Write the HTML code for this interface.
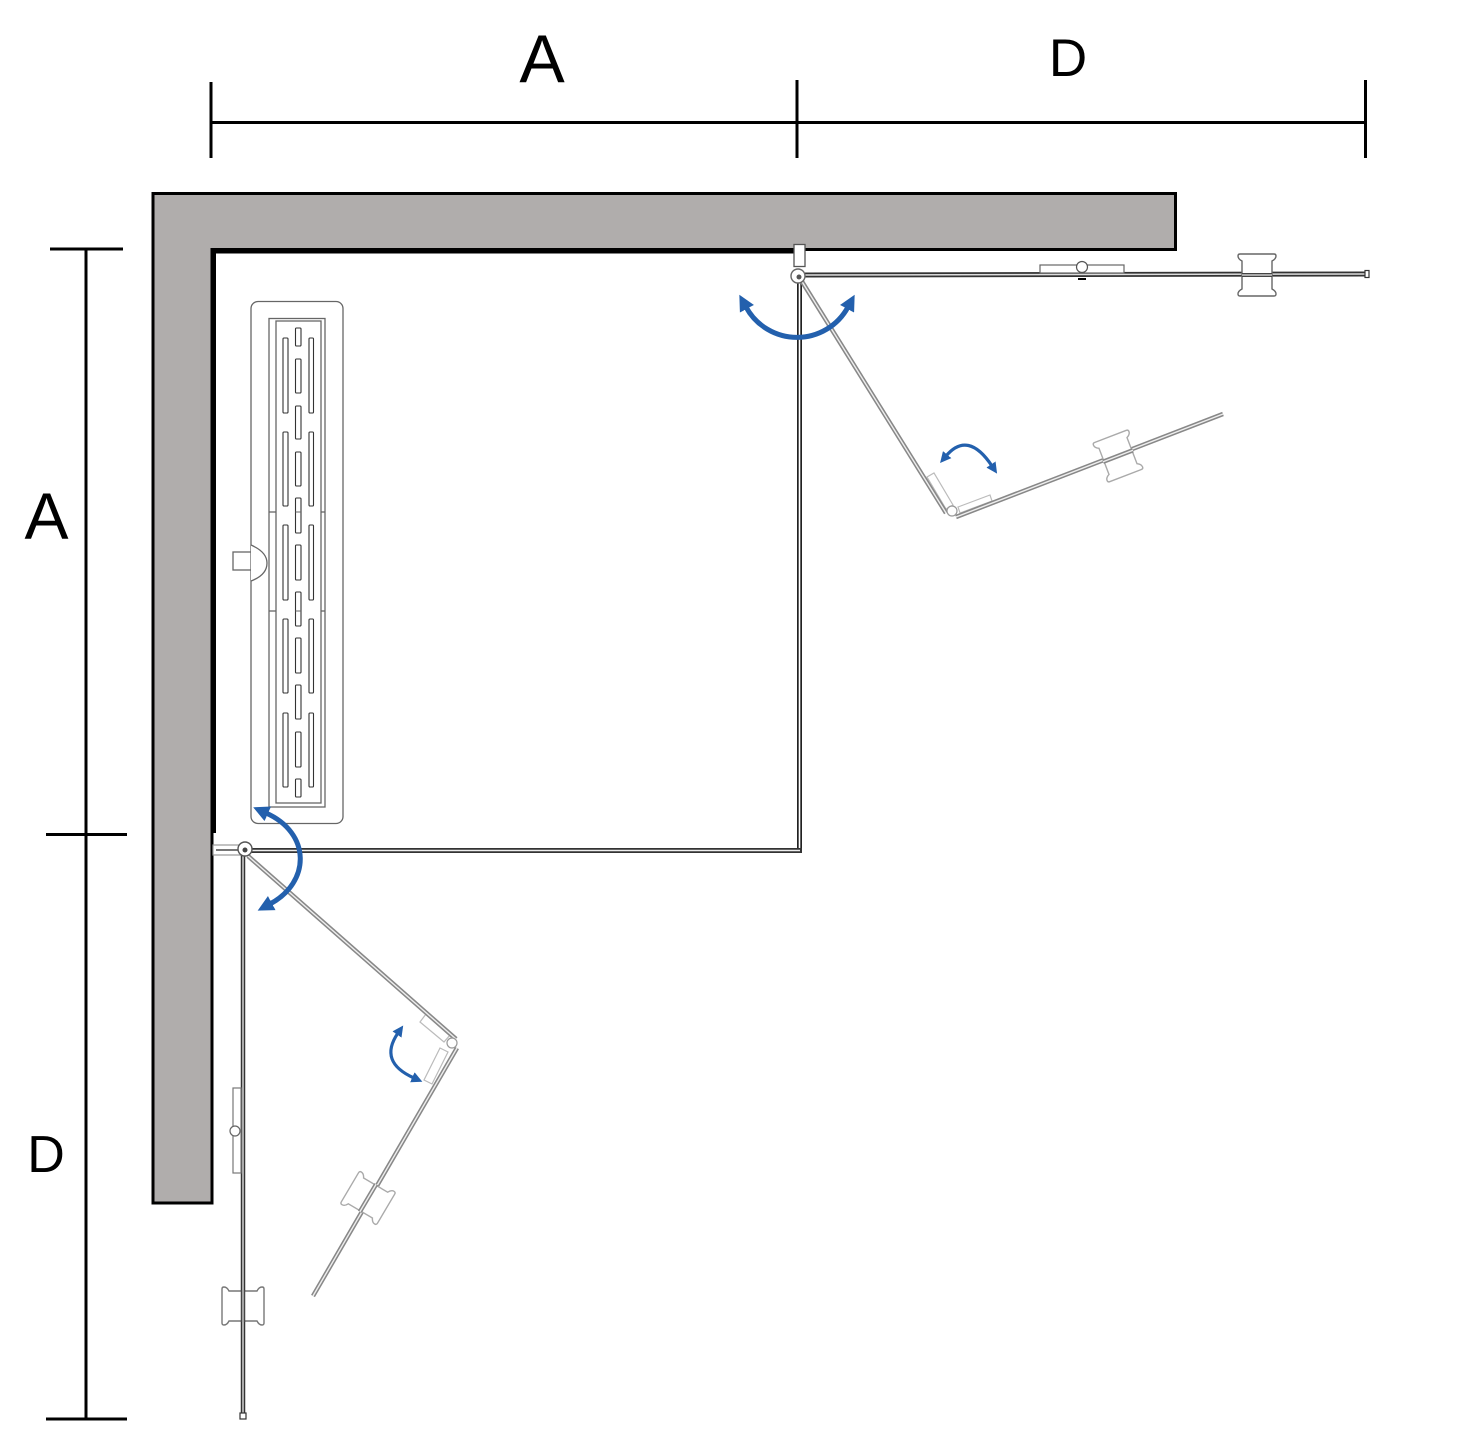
<!DOCTYPE html>
<html><head><meta charset="utf-8"><style>
html,body{margin:0;padding:0;background:#fff;}
svg{display:block;}
text{font-family:"Liberation Sans",Arial,sans-serif;fill:#000;}
</style></head><body>
<svg width="1479" height="1431" viewBox="0 0 1479 1431" xmlns="http://www.w3.org/2000/svg">
<defs>
<marker id="ab" viewBox="0 0 16 16" refX="2" refY="8" markerWidth="16" markerHeight="16" markerUnits="userSpaceOnUse" orient="auto-start-reverse"><path d="M0,0 L16,8 L0,16 z" fill="#2360ad"/></marker>
<marker id="as" viewBox="0 0 12 12" refX="2" refY="6" markerWidth="11" markerHeight="11" markerUnits="userSpaceOnUse" orient="auto-start-reverse"><path d="M0,0 L12,6 L0,12 z" fill="#2360ad"/></marker>
<path id="spool" d="M-17,-21 L17,-21 Q19,-21 19,-19 Q19,-16 15,-14 L15,14 Q19,16 19,19 Q19,21 17,21 L-17,21 Q-19,21 -19,19 Q-19,16 -15,14 L-15,-14 Q-19,-16 -19,-19 Q-19,-21 -17,-21 Z" fill="#fff" stroke-width="1.4"/>
</defs>

<!-- dimension lines -->
<g stroke="#000" stroke-width="3" fill="none">
<line x1="211" y1="122.5" x2="1366" y2="122.5"/>
<line x1="211" y1="82" x2="211" y2="158"/>
<line x1="797" y1="80" x2="797" y2="158"/>
<line x1="1365.5" y1="80" x2="1365.5" y2="158"/>
<line x1="86" y1="249" x2="86" y2="1419"/>
<line x1="50" y1="249" x2="123" y2="249"/>
<line x1="46" y1="834.5" x2="127" y2="834.5"/>
<line x1="46" y1="1419" x2="127" y2="1419"/>
</g>
<text x="542" y="82" font-size="68" text-anchor="middle">A</text>
<text x="1068" y="76" font-size="53" text-anchor="middle">D</text>
<text x="46.5" y="539" font-size="66" text-anchor="middle">A</text>
<text x="46" y="1172" font-size="52" text-anchor="middle">D</text>

<!-- wall -->
<path d="M153,193.5 L1175.5,193.5 L1175.5,249.5 L212,249.5 L212,1203 L153,1203 Z" fill="#b0adac" stroke="#000" stroke-width="3"/>
<line x1="212" y1="252" x2="795" y2="252" stroke="#000" stroke-width="3"/>
<line x1="214.5" y1="250" x2="214.5" y2="833" stroke="#000" stroke-width="3"/>

<!-- drain -->
<g fill="none" stroke="#666" stroke-width="1.3">
<rect x="251" y="301.5" width="92" height="522" rx="7"/>
<rect x="269" y="318.5" width="56" height="488.5"/>
<rect x="276" y="321" width="45" height="482"/>
<line x1="269" y1="512" x2="276" y2="512"/><line x1="321" y1="512" x2="325" y2="512"/>
<line x1="269" y1="611" x2="276" y2="611"/><line x1="321" y1="611" x2="325" y2="611"/>
<rect x="233" y="552" width="18" height="18" fill="#fff"/>
<path d="M251,545 Q267,552 267,563 Q267,575 251,581" fill="#fff"/>
</g>
<g fill="#fff" stroke="#333" stroke-width="1.1">
<rect x="283" y="338" width="5" height="75" rx="1"/><rect x="283" y="432" width="5" height="74" rx="1"/><rect x="283" y="525" width="5" height="75" rx="1"/><rect x="283" y="619" width="5" height="74" rx="1"/><rect x="283" y="713" width="5" height="74" rx="1"/>
<rect x="309" y="338" width="4.5" height="75" rx="1"/><rect x="309" y="432" width="4.5" height="74" rx="1"/><rect x="309" y="525" width="4.5" height="75" rx="1"/><rect x="309" y="619" width="4.5" height="74" rx="1"/><rect x="309" y="713" width="4.5" height="74" rx="1"/>
<rect x="295.5" y="328" width="5.5" height="18" rx="1"/><rect x="295.5" y="359" width="5.5" height="34" rx="1"/><rect x="295.5" y="406" width="5.5" height="33" rx="1"/><rect x="295.5" y="452" width="5.5" height="34" rx="1"/><rect x="295.5" y="498" width="5.5" height="35" rx="1"/><rect x="295.5" y="545" width="5.5" height="35" rx="1"/><rect x="295.5" y="592" width="5.5" height="34" rx="1"/><rect x="295.5" y="638" width="5.5" height="35" rx="1"/><rect x="295.5" y="685" width="5.5" height="34" rx="1"/><rect x="295.5" y="732" width="5.5" height="35" rx="1"/><rect x="295.5" y="779" width="5.5" height="18" rx="1"/>
</g>
<line x1="295.5" y1="512" x2="301" y2="512" stroke="#666" stroke-width="1"/>
<line x1="295.5" y1="611" x2="301" y2="611" stroke="#666" stroke-width="1"/>

<!-- fixed panels -->
<g fill="none">
<line x1="799.5" y1="282" x2="799.5" y2="853" stroke="#222" stroke-width="5"/>
<line x1="799.5" y1="282" x2="799.5" y2="851" stroke="#fff" stroke-width="1.6"/>
<line x1="250" y1="850.5" x2="802" y2="850.5" stroke="#333" stroke-width="5"/>
<line x1="250" y1="850.5" x2="800" y2="850.5" stroke="#eee" stroke-width="1.6"/>
</g>

<!-- top hinge & door -->
<rect x="794" y="244.5" width="11" height="22" fill="#fff" stroke="#555" stroke-width="1.3"/>
<line x1="805" y1="275" x2="1368" y2="274" stroke="#333" stroke-width="5"/>
<line x1="805" y1="275" x2="1366" y2="274" stroke="#ddd" stroke-width="1.5"/>
<rect x="1365" y="270.5" width="4" height="7" fill="#fff" stroke="#333" stroke-width="1.2"/>
<rect x="1040" y="265" width="84" height="8" fill="#fff" stroke="#666" stroke-width="1.2"/>
<circle cx="1082" cy="267" r="5.5" fill="#fff" stroke="#555" stroke-width="1.2"/>
<path d="M1078,279 L1086,279" stroke="#000" stroke-width="2"/>
<use href="#spool" x="1257" y="275" stroke="#666"/>
<line x1="1242" y1="275" x2="1272" y2="275" stroke="#444" stroke-width="4"/>
<line x1="1242" y1="275" x2="1272" y2="275" stroke="#ccc" stroke-width="1.4"/>

<!-- upper folded door -->
<g fill="#fff" stroke="#bbb" stroke-width="1.2">
<polygon points="927,477 934,473 953,505 946,509"/>
<polygon points="958,507 990,495 992,501 960,513"/>
</g>
<line x1="801" y1="280" x2="946" y2="513" stroke="#888" stroke-width="4.5"/>
<line x1="801" y1="280" x2="946" y2="513" stroke="#eee" stroke-width="1.4"/>
<line x1="956" y1="517" x2="1223" y2="414" stroke="#888" stroke-width="4.5"/>
<line x1="956" y1="517" x2="1223" y2="414" stroke="#eee" stroke-width="1.4"/>
<circle cx="952" cy="511" r="5" fill="#fff" stroke="#999" stroke-width="1.2"/>
<g transform="translate(1118,456) rotate(-21)"><use href="#spool" stroke="#aaa"/><line x1="-16" y1="0" x2="16" y2="0" stroke="#888" stroke-width="4.5"/><line x1="-16" y1="0" x2="16" y2="0" stroke="#eee" stroke-width="1.4"/></g>
<circle cx="798" cy="276" r="7" fill="#fff" stroke="#666" stroke-width="1.4"/>
<circle cx="799" cy="277" r="2.5" fill="#555"/>

<!-- bottom-left hinge & door -->
<rect x="213" y="845" width="30" height="10" fill="#fff" stroke="#999" stroke-width="1.2"/>
<line x1="216" y1="850" x2="238" y2="850" stroke="#777" stroke-width="2"/>
<line x1="243" y1="852" x2="243" y2="1418" stroke="#333" stroke-width="4.5"/>
<line x1="243" y1="852" x2="243" y2="1416" stroke="#ddd" stroke-width="1.4"/>
<rect x="240" y="1413" width="6" height="6" fill="#fff" stroke="#333" stroke-width="1.2"/>
<rect x="233" y="1088" width="8" height="85" fill="#fff" stroke="#777" stroke-width="1.2"/>
<circle cx="235" cy="1131" r="5" fill="#fff" stroke="#666" stroke-width="1.2"/>
<g transform="translate(243,1306) rotate(90)"><use href="#spool" stroke="#777"/></g>
<line x1="243" y1="1290" x2="243" y2="1322" stroke="#444" stroke-width="4.5"/>
<line x1="243" y1="1290" x2="243" y2="1322" stroke="#ccc" stroke-width="1.4"/>

<!-- lower folded door -->
<g fill="#fff" stroke="#bbb" stroke-width="1.2">
<polygon points="420,1022 426,1014 450,1035 444,1042"/>
<polygon points="440,1048 448,1052 432,1084 424,1080"/>
</g>
<line x1="248" y1="856" x2="456" y2="1039" stroke="#888" stroke-width="4.5"/>
<line x1="248" y1="856" x2="456" y2="1039" stroke="#eee" stroke-width="1.4"/>
<line x1="457" y1="1048" x2="313" y2="1296" stroke="#888" stroke-width="4.5"/>
<line x1="457" y1="1048" x2="313" y2="1296" stroke="#eee" stroke-width="1.4"/>
<circle cx="452" cy="1043" r="5" fill="#fff" stroke="#999" stroke-width="1.2"/>
<g transform="translate(368,1198) rotate(30.6)"><use href="#spool" transform="rotate(90)" stroke="#aaa"/><line x1="0" y1="-16" x2="0" y2="16" stroke="#888" stroke-width="4.5"/><line x1="0" y1="-16" x2="0" y2="16" stroke="#eee" stroke-width="1.4"/></g>
<circle cx="245" cy="849" r="7" fill="#fff" stroke="#555" stroke-width="1.4"/>
<circle cx="245" cy="850" r="2.5" fill="#444"/>

<!-- blue arrows -->
<g fill="none" stroke="#2360ad">
<path d="M746,307 A58 58 0 0 0 848,307" stroke-width="5" marker-start="url(#ab)" marker-end="url(#ab)"/>
<path d="M266,813 C311,833 311,882 270,904" stroke-width="5" marker-start="url(#ab)" marker-end="url(#ab)"/>
<path d="M946,456 Q968,430 992,466" stroke-width="3.2" marker-start="url(#as)" marker-end="url(#as)"/>
<path d="M398,1033 Q378,1062 414,1078" stroke-width="3.2" marker-start="url(#as)" marker-end="url(#as)"/>
</g>
</svg>
</body></html>
